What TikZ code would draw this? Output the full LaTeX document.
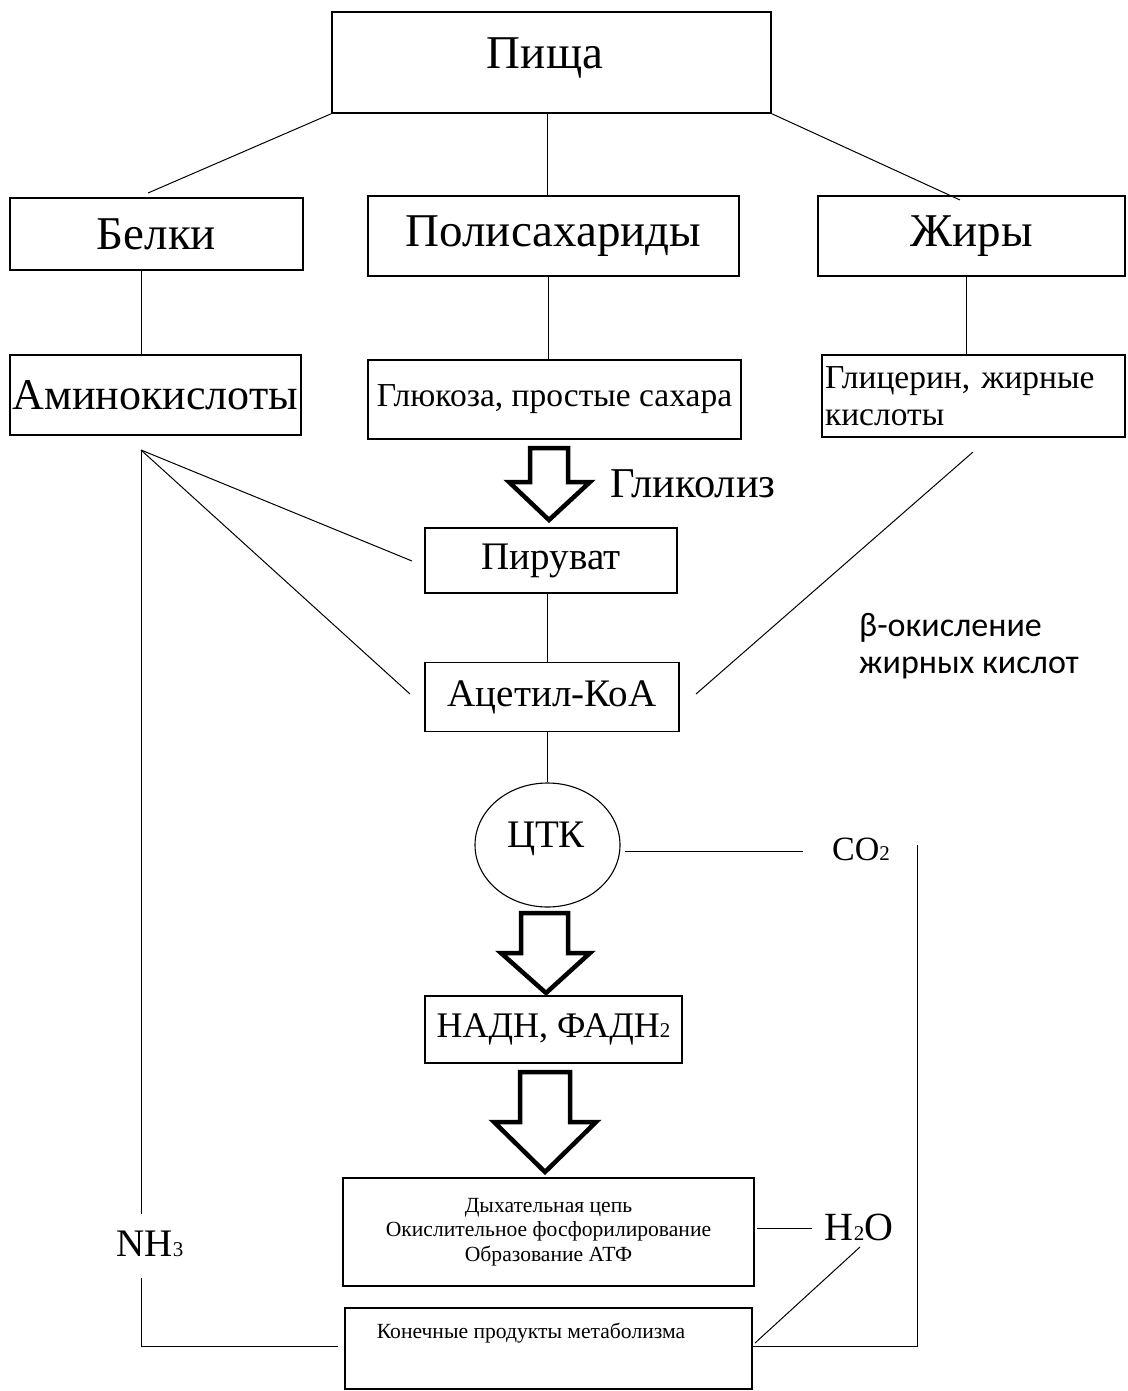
\documentclass[tikz,border=0pt]{standalone}
\usepackage{fontspec}
\usetikzlibrary{shapes.geometric}
\setmainfont{Liberation Serif}
\newfontfamily\sansf{Carlito}
\newcommand{\smallidx}[1]{{\fontsize{21}{21}\selectfont #1}}
\begin{document}
\begin{tikzpicture}[x=1pt,y=-1pt,
  box/.style={draw,line width=1.4pt,inner sep=0pt,align=center},
  conn/.style={line width=1pt},
  blockarrow/.style={draw,line width=4.5pt,line join=miter,fill=white},
  fbig/.style={font=\fontsize{47}{52}\selectfont},
  fmid/.style={font=\fontsize{39}{44}\selectfont},
  fsm/.style={font=\fontsize{33.5}{37}\selectfont},
  ftiny/.style={font=\fontsize{21.6}{24.5}\selectfont},
  fsans/.style={font=\sansf\fontsize{34}{37}\selectfont,anchor=base west,inner sep=0pt}]
\useasboundingbox (0,0) rectangle (1127,1391);
% boxes
\node[box,minimum width=439pt,minimum height=101pt] (food) at (551.5,62.5) {};
\node[fbig] (foodtext) at (545,58) {Пища};
\node[box,fbig,minimum width=293pt,minimum height=72pt] (belki) at (156.5,234) {Белки};
\node[box,fbig,minimum width=371pt,minimum height=80pt] (poly) at (553.5,236) {Полисахариды};
\node[box,fbig,minimum width=307pt,minimum height=80pt] (zhiry) at (971.5,236) {Жиры};
\node[box,font=\fontsize{44}{48}\selectfont,minimum width=291pt,minimum height=80pt] (amino) at (155.5,395) {Аминокислоты};
\node[box,fsm,minimum width=373pt,minimum height=79pt] (gluk) at (554.5,399.5) {Глюкоза, простые сахара};
\node[box,fsm,minimum width=303pt,minimum height=82pt,text width=297pt,align=left,inner xsep=3pt] (glic) at (973.5,396) {Глицерин, жирные\\кислоты};
\node[box,fmid,minimum width=252pt,minimum height=65pt] (piruv) at (551,560.5) {Пируват};
\node[box,fmid,minimum width=254pt,minimum height=69pt] (acetil) at (552,697) {Ацетил-КоА};
\node[draw,line width=1.1pt,ellipse,minimum width=145pt,minimum height=124pt,inner sep=0pt] (ctk) at (547.5,845) {};
\node[fmid] (ctktext) at (546,839) {ЦТК};
\node[box,font=\fontsize{36}{40}\selectfont,minimum width=257pt,minimum height=67pt] (nadh) at (553.5,1029.5) {НАДН, ФАДН\smallidx{2}};
\node[box,ftiny,minimum width=411pt,minimum height=108pt] (dyh) at (548.5,1232) {Дыхательная цепь\\Окислительное фосфорилирование\\Образование АТФ};
\node[box,minimum width=407pt,minimum height=81pt] (kon) at (548.5,1348.5) {};
\node[ftiny] (kontext) at (531,1333) {Конечные продукты метаболизма};
% labels
\node[font=\fontsize{42.5}{46}\selectfont] (glikoliz) at (693,484) {Гликолиз};
\node[fsans] (beta1) at (859,636) {β-окисление};
\node[fsans] (beta2) at (859,673) {жирных кислот};
\node[font=\fontsize{34}{38}\selectfont] (co2) at (861,849) {CO\smallidx{2}};
\node[font=\fontsize{40}{44}\selectfont] (h2o) at (859,1227) {H\smallidx{2}O};
\node[font=\fontsize{39}{44}\selectfont] (nh3) at (150,1244) {NH\smallidx{3}};
% coordinates
\coordinate (fb) at (148,193);
\coordinate (fz) at (960,200);
\coordinate (a0) at (141,450);
\coordinate (ap) at (412,561);
\coordinate (aa) at (410,694);
\coordinate (nt) at (141,1214);
\coordinate (nb) at (141,1278);
\coordinate (nc) at (141,1346);
\coordinate (nk) at (338,1346);
\coordinate (g0) at (973,452);
\coordinate (ga) at (696,694);
\coordinate (c0) at (625,851);
\coordinate (c1) at (803,851);
\coordinate (rt) at (917,845);
\coordinate (rb) at (917,1346);
\coordinate (kr) at (753,1346);
\coordinate (h0) at (757,1228);
\coordinate (h1) at (812,1228);
\coordinate (d0) at (860,1247);
\coordinate (d1) at (755,1343);
% connectors
\draw[conn] (food.south west) -- (fb);
\draw[conn] ([xshift=-4.5pt]food.south) -- ([xshift=-6.5pt]poly.north);
\draw[conn] (food.south east) -- (fz);
\draw[conn] ([xshift=-15.5pt]belki.south) -- ([xshift=-14.5pt]amino.north);
\draw[conn] ([xshift=-5.5pt]poly.south) -- ([xshift=-6.5pt]gluk.north);
\draw[conn] ([xshift=-5.5pt]zhiry.south) -- ([xshift=-7.5pt]glic.north);
\draw[conn] (a0) -- (ap);
\draw[conn] (a0) -- (aa);
\draw[conn] (a0) -- (nt);
\draw[conn] (nb) -- (nc) -- (nk);
\draw[conn] (g0) -- (ga);
\draw[conn] ([xshift=-4pt]piruv.south) -- ([xshift=-5pt]acetil.north);
\draw[conn] ([xshift=-5pt]acetil.south) -- ([xshift=-0.5pt]ctk.north);
\draw[conn] (c0) -- (c1);
\draw[conn] (rt) -- (rb) -- (kr);
\draw[conn] (h0) -- (h1);
\draw[conn] (d0) -- (d1);
% block arrows
\draw[blockarrow] (530,448) -- (568,448) -- (568,482) -- (590,482) -- (549,520) -- (509,482) -- (530,482) -- cycle;
\draw[blockarrow] (521,913) -- (568,913) -- (568,953) -- (590,953) -- (546,993) -- (501,953) -- (521,953) -- cycle;
\draw[blockarrow] (520,1072) -- (570,1072) -- (570,1122) -- (596,1122) -- (545,1172) -- (494,1122) -- (520,1122) -- cycle;
\end{tikzpicture}
\end{document}
